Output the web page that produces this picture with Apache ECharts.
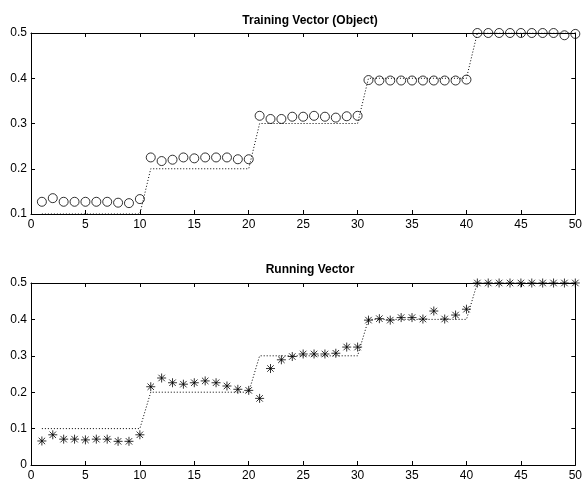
<!DOCTYPE html>
<html><head><meta charset="utf-8">
<script src="https://cdn.jsdelivr.net/npm/echarts@6/dist/echarts.min.js"></script>
<style>html,body{margin:0;padding:0;background:#fff}#c{width:585px;height:486px}</style>
</head><body><div id="c"></div>
<script>
const xs = Array.from({length:50},(_,i)=>i+1);
const reference = [0.1,0.1,0.1,0.1,0.1,0.1,0.1,0.1,0.1,0.1,
  0.2,0.2,0.2,0.2,0.2,0.2,0.2,0.2,0.2,0.2,
  0.3,0.3,0.3,0.3,0.3,0.3,0.3,0.3,0.3,0.3,
  0.4,0.4,0.4,0.4,0.4,0.4,0.4,0.4,0.4,0.4,
  0.5,0.5,0.5,0.5,0.5,0.5,0.5,0.5,0.5,0.5];
const training = [0.127,0.135,0.127,0.127,0.127,0.127,0.127,0.125,0.124,0.133,
  0.225,0.217,0.220,0.225,0.223,0.225,0.225,0.225,0.221,0.221,
  0.317,0.310,0.310,0.315,0.315,0.317,0.315,0.313,0.316,0.317,
  0.396,0.395,0.395,0.395,0.395,0.395,0.395,0.395,0.395,0.397,
  0.500,0.500,0.500,0.500,0.500,0.500,0.500,0.500,0.495,0.498];
const running = [0.066,0.083,0.071,0.071,0.069,0.071,0.071,0.065,0.065,0.083,
  0.215,0.239,0.226,0.222,0.226,0.231,0.226,0.217,0.208,0.205,
  0.183,0.265,0.289,0.298,0.305,0.305,0.305,0.307,0.324,0.324,
  0.398,0.402,0.398,0.405,0.405,0.401,0.423,0.401,0.412,0.428,
  0.500,0.500,0.500,0.500,0.500,0.500,0.500,0.500,0.500,0.500];
const xTicks = [0,5,10,15,20,25,30,35,40,45,50];

const font = 'Liberation Sans, Arial, sans-serif';
const pair = (a)=>xs.map((x,i)=>[x,a[i]]);
function xAxis(idx){
  return {gridIndex:idx,type:'value',min:0,max:50,interval:5,
    axisLine:{onZero:false,lineStyle:{color:'#000',width:1}},
    axisTick:{inside:true,length:4,lineStyle:{color:'#000'}},
    axisLabel:{color:'#000',fontFamily:font,fontSize:12,margin:5},
    splitLine:{show:false}};
}
function xAxisTop(idx){
  return {gridIndex:idx,type:'value',position:'top',min:0,max:50,interval:5,
    axisLine:{onZero:false,lineStyle:{color:'#000',width:1}},
    axisTick:{inside:true,length:4,lineStyle:{color:'#000'}},
    axisLabel:{show:false},splitLine:{show:false}};
}
function yAxis(idx,min){
  return {gridIndex:idx,type:'value',min:min,max:0.5,interval:0.1,
    axisLine:{onZero:false,lineStyle:{color:'#000',width:1}},
    axisTick:{inside:true,length:4,lineStyle:{color:'#000'}},
    axisLabel:{color:'#000',fontFamily:font,fontSize:12,margin:4,formatter:v=>v===0?'0':String(+v.toFixed(1))},
    splitLine:{show:false}};
}
function yAxisRight(idx,min){
  return {gridIndex:idx,type:'value',position:'right',min:min,max:0.5,interval:0.1,
    axisLine:{onZero:false,lineStyle:{color:'#000',width:1}},
    axisTick:{inside:true,length:4,lineStyle:{color:'#000'}},
    axisLabel:{show:false},splitLine:{show:false}};
}
const star = 'path://M0,-5L0,5M-5,0L5,0M-3.6,-3.6L3.6,3.6M-3.6,3.6L3.6,-3.6';
const chart = echarts.init(document.getElementById('c'),null,{renderer:'canvas'});
chart.setOption({
  animation:false,
  backgroundColor:'#fff',
  title:[
    {text:'Training Vector (Object)',left:305,top:10,textAlign:'center',
     textStyle:{fontFamily:font,fontSize:12,fontWeight:'bold',color:'#000'}},
    {text:'Running Vector',left:305,top:259,textAlign:'center',
     textStyle:{fontFamily:font,fontSize:12,fontWeight:'bold',color:'#000'}}
  ],
  grid:[
    {left:31,right:7,top:33,height:181},
    {left:31,right:7,top:283,height:182}
  ],
  xAxis:[xAxis(0),xAxisTop(0),xAxis(1),xAxisTop(1)],
  yAxis:[yAxis(0,0.1),yAxisRight(0,0.1),yAxis(1,0),yAxisRight(1,0)],
  series:[
    {type:'line',xAxisIndex:0,yAxisIndex:0,data:pair(reference),showSymbol:false,
     lineStyle:{color:'#000',width:1,type:[1,2]}},
    {type:'scatter',xAxisIndex:0,yAxisIndex:0,data:pair(training),symbol:'circle',symbolSize:9,
     itemStyle:{color:'rgba(0,0,0,0)',borderColor:'#000',borderWidth:1}},
    {type:'line',xAxisIndex:2,yAxisIndex:2,data:pair(reference),showSymbol:false,
     lineStyle:{color:'#000',width:1,type:[1,2]}},
    {type:'scatter',xAxisIndex:2,yAxisIndex:2,data:pair(running),symbol:star,symbolSize:9,
     itemStyle:{color:'none',borderColor:'#000',borderWidth:1}}
  ]
});
</script></body></html>
